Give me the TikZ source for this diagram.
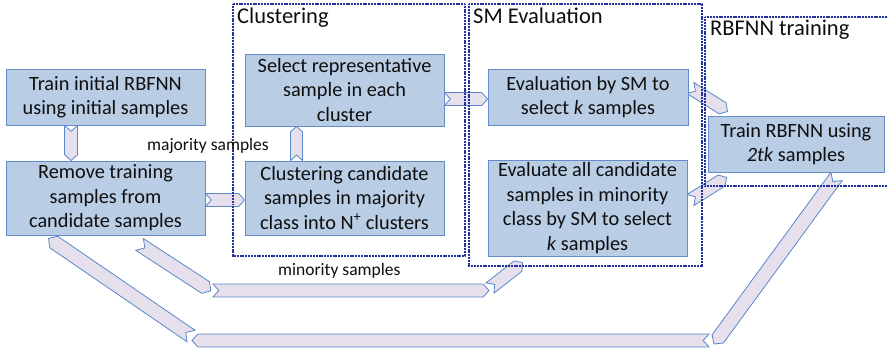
\documentclass[tikz,border=0pt]{standalone}
\usepackage{fontspec}
\setmainfont{Carlito}
\usetikzlibrary{calc}

\definecolor{boxfill}{RGB}{185,205,229}
\definecolor{boxline}{RGB}{100,140,200}
\definecolor{chevfill}{RGB}{230,224,237}
\definecolor{chevline}{RGB}{90,135,200}
\definecolor{frameblue}{RGB}{35,50,155}
\definecolor{ink}{RGB}{15,15,15}

\pgfdeclarelayer{paper}
\pgfdeclarelayer{chevrons}
\pgfdeclarelayer{frames}
\pgfsetlayers{paper,chevrons,frames,main}

% chevron band from #2 to #3 (notched tail at #2, point at #3), width #1
\newcommand\chevron[3][13]{%
  \path let \p1=(#2), \p2=(#3) in \pgfextra{%
    \pgfmathsetmacro\chevang{atan2((\y2)-(\y1),(\x2)-(\x1))}%
    \pgfmathsetmacro\chevlen{veclen((\x2)-(\x1),(\y2)-(\y1))}%
    \xdef\chevA{\chevang}\xdef\chevL{\chevlen}};
  \pgfmathsetmacro\chevH{#1/2}%
  \pgfmathsetmacro\chevD{0.45*#1}%
  \pgfmathsetmacro\chevB{\chevL-\chevD}%
  \draw[chev, shift={(#2)}, rotate=\chevA]
    (0pt,\chevH pt) -- (\chevB pt,\chevH pt) -- (\chevL pt,0pt)
    -- (\chevB pt,-\chevH pt) -- (0pt,-\chevH pt) -- (\chevD pt,0pt) -- cycle;
}

\tikzset{
  box/.style={draw=boxline, fill=boxfill, line width=0.9pt, inner sep=0pt,
    align=center, text=ink, font=\fontsize{20.3}{24.5}\selectfont},
  chev/.style={draw=chevline, fill=chevfill, line width=0.8pt, line join=miter},
  frame/.style={draw=frameblue, line width=1.9pt, dash pattern=on 1.1pt off 0.45pt},
  frametitle/.style={anchor=base west, inner sep=0pt, text=ink,
    font=\fontsize{22.5}{27}\selectfont},
  flowlabel/.style={anchor=base west, inner sep=0pt, text=ink,
    font=\fontsize{17.5}{21}\selectfont},
}

\begin{document}
\begin{tikzpicture}[x=1pt,y=-1pt]
\useasboundingbox (0,0) rectangle (888,350);
\begin{pgfonlayer}{paper}
  \fill[white] (0,0) rectangle (888,350);
\end{pgfonlayer}

% process steps
\node[box, minimum width=199pt, minimum height=56pt] (A) at (105.5,97)
  {Train initial RBFNN\\using initial samples};
\node[box, minimum width=199pt, minimum height=74pt] (B) at (105.5,198)
  {Remove training\\samples from\\candidate samples};
\node[box, minimum width=199pt, minimum height=72pt] (C) at (344.5,90)
  {Select representative\\sample in each\\cluster};
\node[box, minimum width=199pt, minimum height=74pt] (D) at (344.5,198)
  {Clustering candidate\\samples in majority\\class into N\textsuperscript{+} clusters};
\node[box, minimum width=200pt, minimum height=56pt] (E) at (588,97)
  {Evaluation by SM to\\select \textit{k} samples};
\node[box, minimum width=199pt, minimum height=96pt] (F) at (587.5,208)
  {Evaluate all candidate\\samples in minority\\class by SM to select\\\textit{k} samples};
\node[box, minimum width=176pt, minimum height=56pt] (G) at (796,144)
  {Train RBFNN using\\\textit{2tk} samples};

% bends of the two long paths
\coordinate (m1) at (211,291);
\coordinate (m2) at (213,290.5);
\coordinate (m3) at (489,290.5);
\coordinate (m4) at (490,288);
\coordinate (l1) at (714,344);
\coordinate (l2) at (709,340.5);
\coordinate (l3) at (192,340.5);
\coordinate (l4) at (191,336);

% group frames
\begin{pgfonlayer}{frames}
  \draw[frame] (233,4) rectangle (465,256);
  \draw[frame] (469,4) rectangle (702,266);
  \begin{scope}
    \clip (0,0) rectangle (888,350);
    \draw[frame] (705,17) rectangle (900,186);
  \end{scope}
\end{pgfonlayer}
\node[frametitle] (t1) at (237,23.5) {Clustering};
\node[frametitle] (t2) at (473,23.5) {SM Evaluation};
\node[frametitle] (t3) at (710,36) {RBFNN training};

\node[flowlabel] (lmaj) at (147,150) {majority samples};
\node[flowlabel] (lmin) at (278,275) {minority samples};

% connectors
\begin{pgfonlayer}{chevrons}
  \chevron{$(A.south west)+(65.5,0)$}{$(B.north west)+(65.5,0)$}
  \chevron{$(B.east)+(0,2)$}{$(D.west)+(0,2)$}
  \chevron[12]{$(D.north west)+(52,0)$}{$(C.south west)+(52,0)$}
  \chevron{$(C.east)+(0,9)$}{$(E.west)+(0,2)$}
  \chevron{$(E.east)+(2,-9)$}{$(G.north west)+(20,-4)$}
  \chevron{$(F.east)+(3,-8)$}{$(G.south west)+(19,5)$}
  % minority samples path
  \chevron[14]{$(B.south west)+(134,9)$}{m1}
  \chevron[13]{m2}{m3}
  \chevron[13]{m4}{$(F.south west)+(35,6)$}
  % loop back from the trained network
  \chevron[14]{$(G.south west)+(129,4)$}{l1}
  \chevron[13]{l2}{l3}
  \chevron[14]{l4}{$(B.south west)+(43,3)$}
\end{pgfonlayer}
\end{tikzpicture}
\end{document}
